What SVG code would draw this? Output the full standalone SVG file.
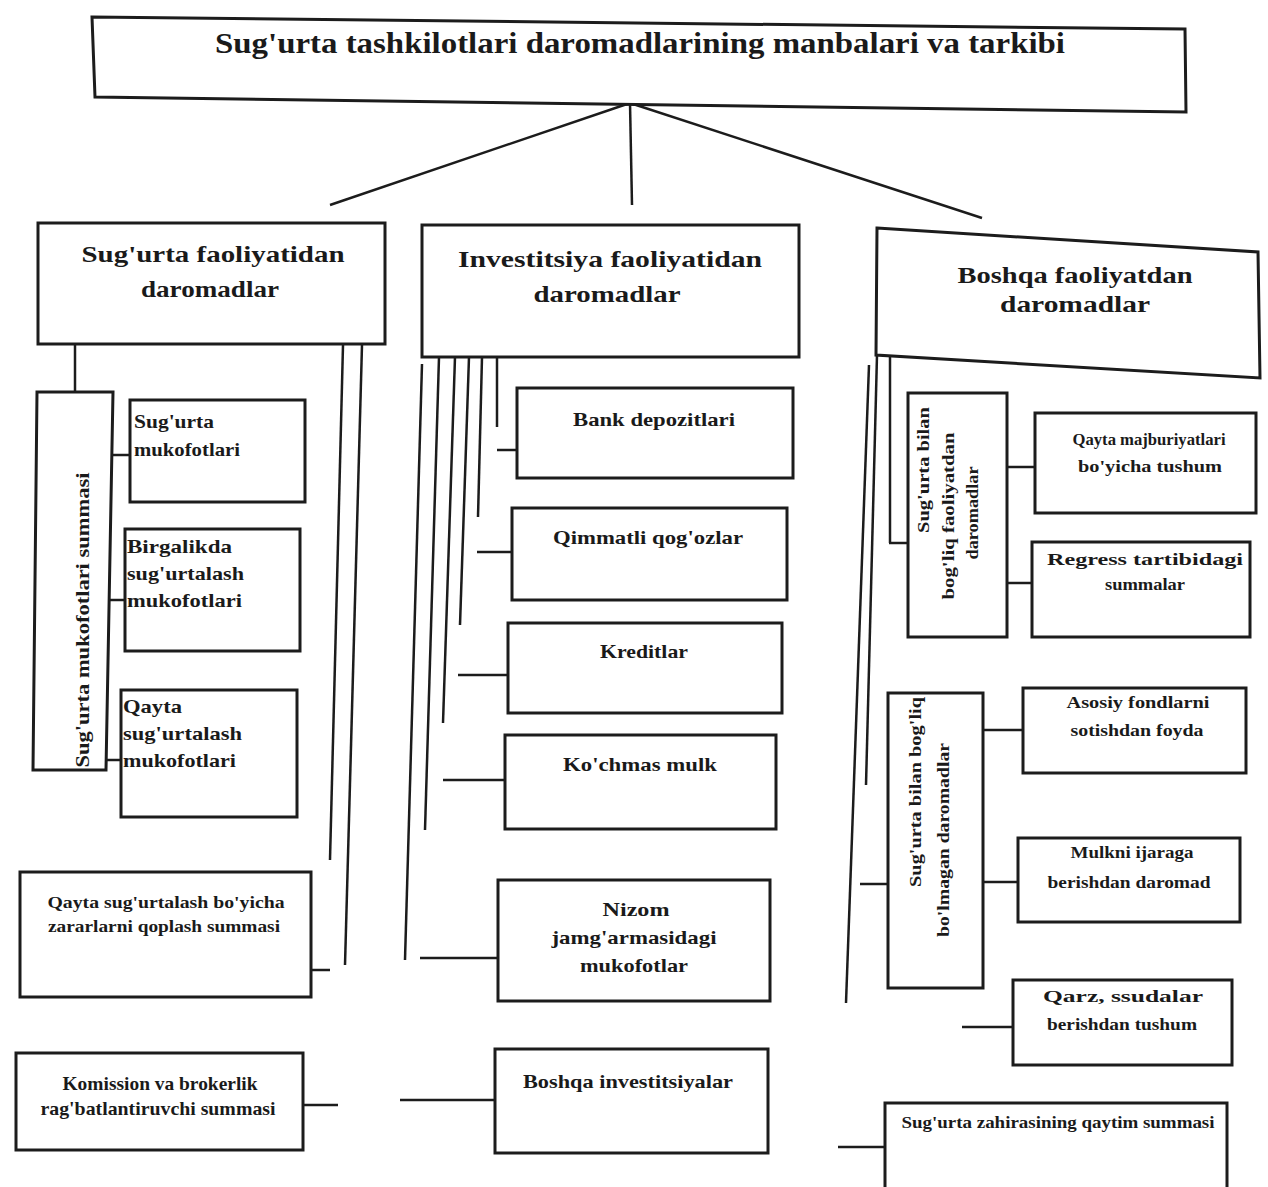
<svg xmlns="http://www.w3.org/2000/svg" width="1268" height="1187" viewBox="0 0 1268 1187">
<style>
.box{fill:#fff;stroke:#1c1c1c;stroke-width:3}
.ln{stroke:#1c1c1c;stroke-width:2.5;fill:none}
.t{font-family:"Liberation Serif","Times New Roman",serif;font-weight:bold;fill:#1a1a1a}
.title{font-size:29px}
.hd{font-size:24px}
.sb{font-size:19px}
.sm{font-size:16px}
.c{text-anchor:middle}
</style>
<rect x="0" y="0" width="1268" height="1187" fill="#fff"/>

<g id="connectors">
  <line class="ln" x1="630" y1="103" x2="330" y2="205"/>
  <line class="ln" x1="630" y1="103" x2="632" y2="205"/>
  <line class="ln" x1="630" y1="103" x2="982" y2="218"/>
  <!-- left -->
  <line class="ln" x1="75" y1="344" x2="75" y2="392"/>
  <line class="ln" x1="113" y1="455" x2="130" y2="455"/>
  <line class="ln" x1="109" y1="600" x2="125" y2="600"/>
  <line class="ln" x1="105" y1="760" x2="121" y2="760"/>
  <line class="ln" x1="343" y1="345" x2="330" y2="860"/>
  <line class="ln" x1="362" y1="345" x2="345" y2="965"/>
  <line class="ln" x1="311" y1="970" x2="330" y2="970"/>
  <line class="ln" x1="303" y1="1105" x2="338" y2="1105"/>
  <!-- middle -->
  <line class="ln" x1="422" y1="364" x2="405" y2="960"/>
  <line class="ln" x1="439" y1="357" x2="425" y2="830"/>
  <line class="ln" x1="455" y1="357" x2="443" y2="723"/>
  <line class="ln" x1="469" y1="357" x2="460" y2="625"/>
  <line class="ln" x1="482" y1="357" x2="478" y2="517"/>
  <line class="ln" x1="497" y1="357" x2="497" y2="427"/>
  <line class="ln" x1="497" y1="450" x2="517" y2="450"/>
  <line class="ln" x1="477" y1="552" x2="512" y2="552"/>
  <line class="ln" x1="458" y1="675" x2="508" y2="675"/>
  <line class="ln" x1="443" y1="780" x2="505" y2="780"/>
  <line class="ln" x1="420" y1="958" x2="498" y2="958"/>
  <line class="ln" x1="400" y1="1100" x2="495" y2="1100"/>
  <!-- right -->
  <line class="ln" x1="877" y1="355" x2="866" y2="785"/>
  <line class="ln" x1="869" y1="365" x2="846" y2="1003"/>
  <line class="ln" x1="890" y1="357" x2="890" y2="543"/>
  <line class="ln" x1="889" y1="543" x2="908" y2="543"/>
  <line class="ln" x1="1007" y1="467" x2="1035" y2="467"/>
  <line class="ln" x1="1007" y1="583" x2="1032" y2="583"/>
  <line class="ln" x1="860" y1="884" x2="888" y2="884"/>
  <line class="ln" x1="984" y1="730" x2="1023" y2="730"/>
  <line class="ln" x1="976" y1="882" x2="1018" y2="882"/>
  <line class="ln" x1="962" y1="1027" x2="1013" y2="1027"/>
  <line class="ln" x1="838" y1="1147" x2="885" y2="1147"/>
</g>

<g id="title">
  <polygon class="box" points="92,17 1185,29 1186,112 95,97"/>
  <text class="t title c" x="640" y="53" textLength="850" lengthAdjust="spacingAndGlyphs">Sug'urta tashkilotlari daromadlarining manbalari va tarkibi</text>
</g>

<g id="h-sugurta">
  <rect class="box" x="38" y="223" width="347" height="121"/>
  <text class="t hd c" x="213" y="262" textLength="263" lengthAdjust="spacingAndGlyphs">Sug'urta faoliyatidan</text>
  <text class="t hd c" x="210" y="297" textLength="138" lengthAdjust="spacingAndGlyphs">daromadlar</text>
</g>
<g id="h-invest">
  <rect class="box" x="422" y="225" width="377" height="132"/>
  <text class="t hd c" x="610" y="267" textLength="304" lengthAdjust="spacingAndGlyphs">Investitsiya faoliyatidan</text>
  <text class="t hd c" x="607" y="302" textLength="147" lengthAdjust="spacingAndGlyphs">daromadlar</text>
</g>
<g id="h-boshqa">
  <polygon class="box" points="877,228 1258,252 1260,378 876,355"/>
  <text class="t hd c" x="1075" y="283" textLength="235" lengthAdjust="spacingAndGlyphs">Boshqa faoliyatdan</text>
  <text class="t hd c" x="1075" y="312" textLength="150" lengthAdjust="spacingAndGlyphs">daromadlar</text>
</g>

<!-- left column -->
<g id="v-mukofot">
  <polygon class="box" points="37,392 113,392 106,770 33,770"/>
  <text class="t c" style="font-size:18px" transform="translate(89,620) rotate(-90)" textLength="295" lengthAdjust="spacingAndGlyphs">Sug'urta mukofotlari summasi</text>
</g>
<g id="n-mukofot">
  <rect class="box" x="130" y="400" width="175" height="102"/>
  <text class="t sb" x="134" y="428" textLength="80" lengthAdjust="spacingAndGlyphs">Sug'urta</text>
  <text class="t sb" x="134" y="456" textLength="106" lengthAdjust="spacingAndGlyphs">mukofotlari</text>
</g>
<g id="n-birgalikda">
  <rect class="box" x="125" y="529" width="175" height="122"/>
  <text class="t sb" x="127" y="553" textLength="105" lengthAdjust="spacingAndGlyphs">Birgalikda</text>
  <text class="t sb" x="127" y="580" textLength="117" lengthAdjust="spacingAndGlyphs">sug'urtalash</text>
  <text class="t sb" x="127" y="607" textLength="115" lengthAdjust="spacingAndGlyphs">mukofotlari</text>
</g>
<g id="n-qayta-muk">
  <rect class="box" x="121" y="690" width="176" height="127"/>
  <text class="t sb" x="123" y="713" textLength="59" lengthAdjust="spacingAndGlyphs">Qayta</text>
  <text class="t sb" x="123" y="740" textLength="119" lengthAdjust="spacingAndGlyphs">sug'urtalash</text>
  <text class="t sb" x="123" y="767" textLength="113" lengthAdjust="spacingAndGlyphs">mukofotlari</text>
</g>
<g id="n-qayta-qoplash">
  <rect class="box" x="20" y="872" width="291" height="125"/>
  <text class="t sm c" x="166" y="908" textLength="237" lengthAdjust="spacingAndGlyphs">Qayta sug'urtalash bo'yicha</text>
  <text class="t sm c" x="164" y="932" textLength="232" lengthAdjust="spacingAndGlyphs">zararlarni qoplash summasi</text>
</g>
<g id="n-komission">
  <rect class="box" x="16" y="1053" width="287" height="97"/>
  <text class="t sb c" x="160" y="1090" textLength="195" lengthAdjust="spacingAndGlyphs">Komission va brokerlik</text>
  <text class="t sb c" x="158" y="1115" textLength="235" lengthAdjust="spacingAndGlyphs">rag'batlantiruvchi summasi</text>
</g>

<!-- middle column -->
<g id="n-bank">
  <rect class="box" x="517" y="388" width="276" height="90"/>
  <text class="t sb c" x="654" y="426" textLength="162" lengthAdjust="spacingAndGlyphs">Bank depozitlari</text>
</g>
<g id="n-qimmatli">
  <rect class="box" x="512" y="508" width="275" height="92"/>
  <text class="t sb c" x="648" y="544" textLength="190" lengthAdjust="spacingAndGlyphs">Qimmatli qog'ozlar</text>
</g>
<g id="n-kreditlar">
  <rect class="box" x="508" y="623" width="274" height="90"/>
  <text class="t sb c" x="644" y="658" textLength="88" lengthAdjust="spacingAndGlyphs">Kreditlar</text>
</g>
<g id="n-kochmas">
  <rect class="box" x="505" y="735" width="271" height="94"/>
  <text class="t sb c" x="640" y="771" textLength="154" lengthAdjust="spacingAndGlyphs">Ko'chmas mulk</text>
</g>
<g id="n-nizom">
  <rect class="box" x="498" y="880" width="272" height="121"/>
  <text class="t sb c" x="636" y="916" textLength="67" lengthAdjust="spacingAndGlyphs">Nizom</text>
  <text class="t sb c" x="634" y="944" textLength="165" lengthAdjust="spacingAndGlyphs">jamg'armasidagi</text>
  <text class="t sb c" x="634" y="972" textLength="108" lengthAdjust="spacingAndGlyphs">mukofotlar</text>
</g>
<g id="n-boshqa-inv">
  <rect class="box" x="495" y="1049" width="273" height="104"/>
  <text class="t sb c" x="628" y="1088" textLength="210" lengthAdjust="spacingAndGlyphs">Boshqa investitsiyalar</text>
</g>

<!-- right column -->
<g id="v-bogliq">
  <rect class="box" x="908" y="393" width="99" height="244"/>
  <text class="t sm c" transform="translate(929,470) rotate(-90)" textLength="126" lengthAdjust="spacingAndGlyphs">Sug'urta bilan</text>
  <text class="t sm c" transform="translate(954,516) rotate(-90)" textLength="167" lengthAdjust="spacingAndGlyphs">bog'liq faoliyatdan</text>
  <text class="t sm c" transform="translate(978,513) rotate(-90)" textLength="93" lengthAdjust="spacingAndGlyphs">daromadlar</text>
</g>
<g id="n-majburiyat">
  <rect class="box" x="1035" y="413" width="221" height="100"/>
  <text class="t sm c" x="1149" y="445" textLength="153" lengthAdjust="spacingAndGlyphs">Qayta majburiyatlari</text>
  <text class="t sm c" x="1150" y="472" textLength="144" lengthAdjust="spacingAndGlyphs">bo'yicha tushum</text>
</g>
<g id="n-regress">
  <rect class="box" x="1032" y="542" width="218" height="95"/>
  <text class="t sm c" x="1145" y="565" textLength="196" lengthAdjust="spacingAndGlyphs">Regress tartibidagi</text>
  <text class="t sm c" x="1145" y="590" textLength="80" lengthAdjust="spacingAndGlyphs">summalar</text>
</g>
<g id="v-bogliq-emas">
  <rect class="box" x="888" y="693" width="95" height="295"/>
  <text class="t sm c" transform="translate(921,792) rotate(-90)" textLength="190" lengthAdjust="spacingAndGlyphs">Sug'urta bilan bog'liq</text>
  <text class="t sm c" transform="translate(949,840) rotate(-90)" textLength="194" lengthAdjust="spacingAndGlyphs">bo'lmagan daromadlar</text>
</g>
<g id="n-asosiy">
  <rect class="box" x="1023" y="688" width="223" height="85"/>
  <text class="t sm c" x="1138" y="708" textLength="143" lengthAdjust="spacingAndGlyphs">Asosiy fondlarni</text>
  <text class="t sm c" x="1137" y="736" textLength="133" lengthAdjust="spacingAndGlyphs">sotishdan foyda</text>
</g>
<g id="n-mulk">
  <rect class="box" x="1018" y="838" width="222" height="84"/>
  <text class="t sm c" x="1132" y="858" textLength="123" lengthAdjust="spacingAndGlyphs">Mulkni ijaraga</text>
  <text class="t sm c" x="1129" y="888" textLength="163" lengthAdjust="spacingAndGlyphs">berishdan daromad</text>
</g>
<g id="n-qarz">
  <rect class="box" x="1013" y="980" width="219" height="85"/>
  <text class="t sm c" x="1123" y="1002" textLength="160" lengthAdjust="spacingAndGlyphs">Qarz, ssudalar</text>
  <text class="t sm c" x="1122" y="1030" textLength="150" lengthAdjust="spacingAndGlyphs">berishdan tushum</text>
</g>
<g id="n-zahira">
  <rect class="box" x="885" y="1103" width="342" height="90"/>
  <text class="t sm c" x="1058" y="1128" textLength="313" lengthAdjust="spacingAndGlyphs">Sug'urta zahirasining qaytim summasi</text>
</g>
</svg>
